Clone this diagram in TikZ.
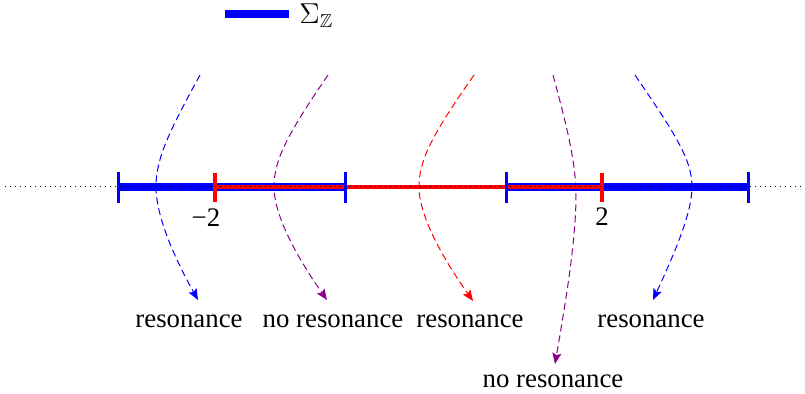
\documentclass[tikz,border=0pt]{standalone}
\usepackage{fontspec}
\usepackage{amssymb}
\setmainfont{Liberation Serif}
\newfontfamily\tmsfont{Liberation Serif}
\usetikzlibrary{arrows.meta}
\definecolor{mypurple}{RGB}{140,0,140}
\begin{document}
\begin{tikzpicture}[x=0.5pt,y=-0.5pt,
  lbl/.style={font=\tmsfont\fontsize{13.4}{15}\selectfont, inner sep=0pt},
  flow/.style={dash pattern=on 3.5pt off 2pt, line width=0.5pt, -{Stealth[length=5.5pt,width=4.5pt,inset=1pt]}},
  bar/.style={blue, line width=3.8pt},
  btick/.style={blue, line width=1.5pt},
  rtick/.style={red, line width=1.8pt},
  rline/.style={red, line width=1.8pt},
  axis/.style={black, line width=0.5pt, dash pattern=on 0.5pt off 2pt},
]
\useasboundingbox (0,0) rectangle (805,394);
% legend
\coordinate (L1) at (225,14);
\coordinate (L2) at (289,14);
\draw[bar] (L1) -- (L2);
\node[lbl, anchor=west] (leg) at (299,16) {$\Sigma_{\mathbb{Z}}$};
% axis coordinates
\coordinate (x0) at (5,187);
\coordinate (x1) at (805,187);
\coordinate (b1) at (118,187);
\coordinate (b2) at (345,187);
\coordinate (b3) at (506,187);
\coordinate (b4) at (748,187);
\coordinate (r1) at (215,187);
\coordinate (r2) at (602,187);
% curves
\coordinate (s1) at (200,75);  \coordinate (m1) at (156,187); \coordinate (e1) at (198,300);
\coordinate (s2) at (328,75);  \coordinate (m2) at (274,187); \coordinate (e2) at (327,300);
\coordinate (s3) at (474,75);  \coordinate (m3) at (419,187); \coordinate (e3) at (473,301);
\coordinate (s4) at (553,75);  \coordinate (m4) at (576,195); \coordinate (e4) at (555,364);
\coordinate (s5) at (635,75);  \coordinate (m5) at (692,187); \coordinate (e5) at (653,300);
\draw[flow, blue] (s1) .. controls (167,135) and (156,160) .. (m1) .. controls (156,212) and (170,250) .. (e1);
\draw[flow, mypurple] (s2) .. controls (287,135) and (274,160) .. (m2) .. controls (274,212) and (292,250) .. (e2);
\draw[flow, red] (s3) .. controls (432,135) and (419,160) .. (m3) .. controls (419,212) and (437,250) .. (e3);
\draw[flow, mypurple] (s4) .. controls (568,130) and (576,165) .. (m4) .. controls (576,240) and (566,300) .. (e4);
\draw[flow, blue] (s5) .. controls (676,135) and (692,160) .. (m5) .. controls (692,212) and (676,250) .. (e5);
% bars
\draw[bar] (b1) -- (b2);
\draw[bar] (b3) -- (b4);
\draw[rline] (r1) -- (r2);
\draw[btick] (b1) ++(0,-15) -- ++(0,31);
\draw[btick] (b2) ++(0,-15) -- ++(0,31);
\draw[btick] (b3) ++(0,-15) -- ++(0,31);
\draw[btick] (b4) ++(0,-15) -- ++(0,31);
\draw[rtick] (r1) ++(0,-14) -- ++(0,29);
\draw[rtick] (r2) ++(0,-14) -- ++(0,29);
\draw[axis] (x0) -- (x1);
% tick labels
\node[lbl] (lm2) at (206,218) {−2};
\node[lbl] (lp2) at (602,217) {2};
% outcome labels
\node[lbl] (t1) at (189,321) {resonance};
\node[lbl] (t2) at (333,321) {no resonance};
\node[lbl] (t3) at (470,321) {resonance};
\node[lbl] (t5) at (651,321) {resonance};
\node[lbl] (t4) at (553,381) {no resonance};
\end{tikzpicture}
\end{document}
